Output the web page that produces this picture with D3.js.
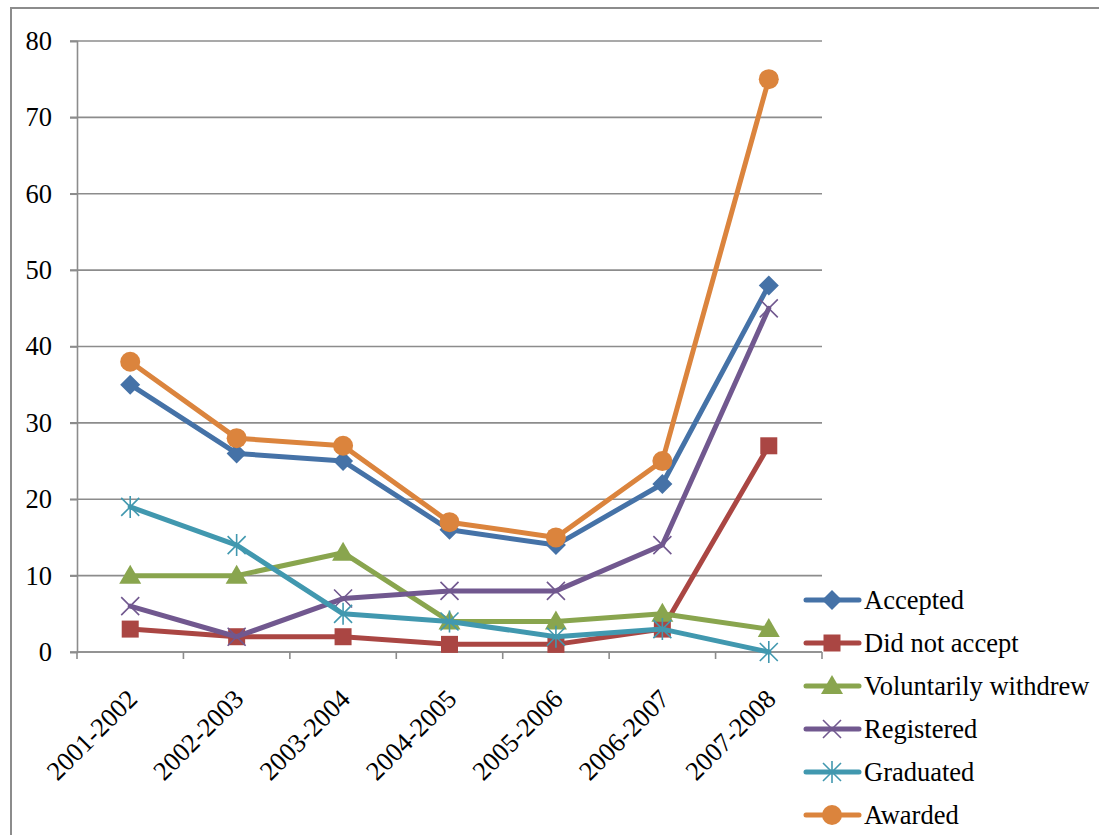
<!DOCTYPE html>
<html>
<head>
<meta charset="utf-8">
<script src="https://cdn.jsdelivr.net/npm/d3@7"></script>
<style>
  html, body { margin: 0; padding: 0; background: #fff; }
  svg { display: block; }
</style>
</head>
<body>
<svg id="chart" width="1099" height="835"></svg>
<script>
// School years on the category axis
const years = ["2001-2002", "2002-2003", "2003-2004", "2004-2005", "2005-2006", "2006-2007", "2007-2008"];

// Counts per year for each outcome
const accepted     = [35, 26, 25, 16, 14, 22, 48];
const didNotAccept = [3, 2, 2, 1, 1, 3, 27];
const withdrew     = [10, 10, 13, 4, 4, 5, 3];
const registered   = [6, 2, 7, 8, 8, 14, 45];
const graduated    = [19, 14, 5, 4, 2, 3, 0];
const awarded      = [38, 28, 27, 17, 15, 25, 75];

const yTicks = [0, 10, 20, 30, 40, 50, 60, 70, 80];

const series = [
  { name: "Accepted",             values: accepted,     color: "#4572A7", marker: "diamond" },
  { name: "Did not accept",       values: didNotAccept, color: "#AA4643", marker: "square" },
  { name: "Voluntarily withdrew", values: withdrew,     color: "#89A54E", marker: "triangle" },
  { name: "Registered",           values: registered,   color: "#71588F", marker: "x" },
  { name: "Graduated",            values: graduated,    color: "#4198AF", marker: "star" },
  { name: "Awarded",              values: awarded,      color: "#DB843D", marker: "circle" }
];

const FONT = "'Liberation Serif', 'Times New Roman', Times, serif";
const FONT_SIZE = 26.5;

const svg = d3.select("#chart");
const gridColor = "#8c8c8c";

// Outer chart frame
svg.append("rect")
  .attr("x", 11).attr("y", 8)
  .attr("width", 1100).attr("height", 840)
  .attr("fill", "none").attr("stroke", gridColor).attr("stroke-width", 2);

const plot = { left: 77, top: 41, right: 822, bottom: 652 };

const x = d3.scaleBand().domain(years).range([plot.left, plot.right]).padding(0);
const y = d3.scaleLinear().domain([0, 80]).range([plot.bottom, plot.top]);
const cx = d => x(d) + x.bandwidth() / 2;

// Horizontal gridlines
svg.append("g").selectAll("line").data(yTicks).join("line")
  .attr("x1", plot.left - 7).attr("x2", plot.right)
  .attr("y1", d => y(d)).attr("y2", d => y(d))
  .attr("stroke", gridColor).attr("stroke-width", 1.6);

// Y axis
const yAxis = svg.append("g").attr("transform", `translate(${plot.left},0)`)
  .call(d3.axisLeft(y).tickValues(yTicks).tickSize(7).tickPadding(18).tickFormat(d3.format("d")));
yAxis.attr("font-family", null).attr("font-size", null);
yAxis.select(".domain").attr("stroke", gridColor).attr("stroke-width", 1.6);
yAxis.selectAll(".tick line").attr("stroke", gridColor).attr("stroke-width", 1.6);
yAxis.selectAll("text")
  .style("font-family", FONT).style("font-size", FONT_SIZE + "px").attr("fill", "#000");

// X axis: ticks on category boundaries
const boundaries = d3.range(years.length + 1).map(i => plot.left + i * x.bandwidth());
svg.append("line")
  .attr("x1", plot.left).attr("x2", plot.right)
  .attr("y1", plot.bottom).attr("y2", plot.bottom)
  .attr("stroke", gridColor).attr("stroke-width", 1.6);
svg.append("g").selectAll("line").data(boundaries).join("line")
  .attr("x1", d => d).attr("x2", d => d)
  .attr("y1", plot.bottom).attr("y2", plot.bottom + 7)
  .attr("stroke", gridColor).attr("stroke-width", 1.6);

svg.append("g").selectAll("text").data(years).join("text")
  .attr("transform", d => `translate(${cx(d) + 2},${plot.bottom + 42}) rotate(-45)`)
  .attr("text-anchor", "end")
  .attr("dy", "0.35em")
  .style("font-family", FONT).style("font-size", FONT_SIZE + "px")
  .attr("fill", "#000")
  .text(d => d);

// Marker shapes
function drawMarker(g, type, color) {
  switch (type) {
    case "diamond":
      g.append("path").attr("d", "M0,-10 L10,0 L0,10 L-10,0 Z").attr("fill", color);
      break;
    case "square":
      g.append("rect").attr("x", -8.5).attr("y", -8.5).attr("width", 17).attr("height", 17).attr("fill", color);
      break;
    case "triangle":
      g.append("path").attr("d", "M0,-11 L11,8 L-11,8 Z").attr("fill", color);
      break;
    case "circle":
      g.append("circle").attr("r", 10).attr("fill", color);
      break;
    case "x":
      g.append("path").attr("d", "M-9,-9 L9,9 M-9,9 L9,-9")
        .attr("stroke", color).attr("stroke-width", 1.6).attr("fill", "none");
      break;
    case "star":
      g.append("path").attr("d", "M-9,-9 L9,9 M-9,9 L9,-9 M0,-11 L0,11")
        .attr("stroke", color).attr("stroke-width", 1.6).attr("fill", "none");
      break;
  }
}

const line = d3.line().x(d => cx(d.year)).y(d => y(d.value));

series.forEach(s => {
  const pts = years.map((yr, i) => ({ year: yr, value: s.values[i] }));
  const g = svg.append("g");
  g.append("path").datum(pts)
    .attr("d", line)
    .attr("fill", "none")
    .attr("stroke", s.color)
    .attr("stroke-width", 5)
    .attr("stroke-linejoin", "round")
    .attr("stroke-linecap", "round");
  pts.forEach(p => {
    const m = g.append("g").attr("transform", `translate(${cx(p.year)},${y(p.value)})`);
    drawMarker(m, s.marker, s.color);
  });
});

// Legend
const legend = svg.append("g");
series.forEach((s, i) => {
  const ly = 600 + i * 43;
  const row = legend.append("g").attr("transform", `translate(0,${ly})`);
  row.append("line").attr("x1", 806).attr("x2", 859).attr("y1", 0).attr("y2", 0)
    .attr("stroke", s.color).attr("stroke-width", 5).attr("stroke-linecap", "round");
  const m = row.append("g").attr("transform", "translate(832,0)");
  drawMarker(m, s.marker, s.color);
  row.append("text").attr("x", 864).attr("y", 0).attr("dy", "0.35em")
    .style("font-family", FONT).style("font-size", FONT_SIZE + "px")
    .attr("fill", "#000").text(s.name);
});
</script>
</body>
</html>
